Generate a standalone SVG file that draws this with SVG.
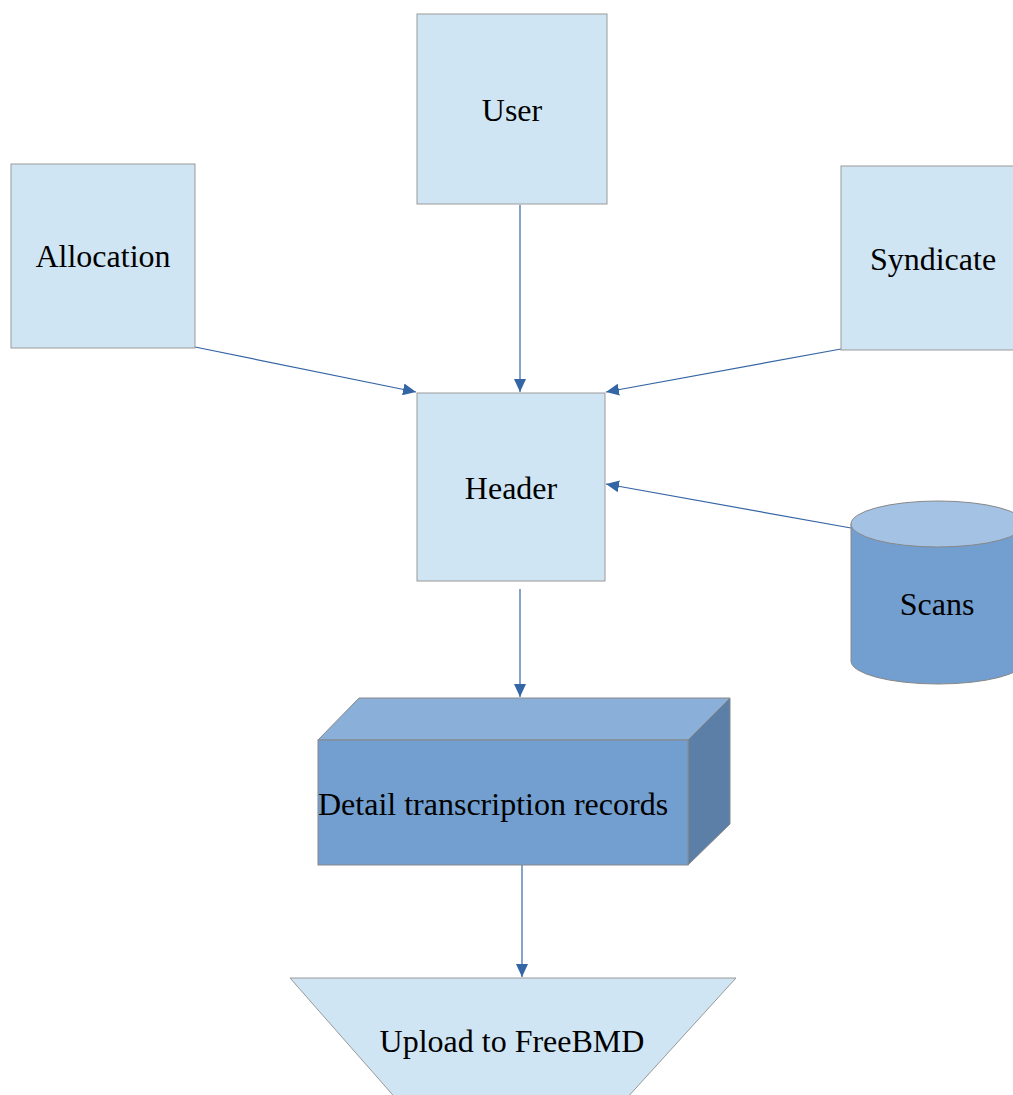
<svg xmlns="http://www.w3.org/2000/svg" width="1013" height="1095" viewBox="0 0 1013 1095">
<defs>
<style>
.n{fill:#cfe5f3;stroke:#999;stroke-width:1}
.t{font-family:"Liberation Serif","Times New Roman",serif;font-size:32px;fill:#000;text-anchor:middle}
.c{stroke:#3465a4;stroke-width:1.2;fill:none;marker-end:url(#ah)}
</style>
<marker id="ah" markerUnits="userSpaceOnUse" markerWidth="14" markerHeight="12" refX="13" refY="6" orient="auto">
<path d="M0,0 L13,6 L0,12 Z" fill="#3465a4"/>
</marker>
</defs>
<rect width="1013" height="1095" fill="#fff"/>
<g id="connectors">
<line class="c" x1="520" y1="205" x2="520" y2="392"/>
<line class="c" x1="195" y1="347" x2="416" y2="392"/>
<line class="c" x1="841" y1="349" x2="606" y2="392"/>
<line class="c" x1="851" y1="528" x2="606" y2="484"/>
<line class="c" x1="520" y1="589" x2="520" y2="697"/>
<line class="c" x1="522" y1="865" x2="522" y2="977"/>
</g>
<g id="user">
<rect class="n" x="417" y="14" width="190" height="190"/>
<text class="t" x="512" y="121">User</text>
</g>
<g id="allocation">
<rect class="n" x="11" y="164" width="184" height="184"/>
<text class="t" x="103" y="267">Allocation</text>
</g>
<g id="syndicate">
<rect class="n" x="841" y="166" width="184" height="184"/>
<text class="t" x="933" y="270">Syndicate</text>
</g>
<g id="header">
<rect class="n" x="417" y="393" width="188" height="188"/>
<text class="t" x="511" y="499">Header</text>
</g>
<g id="scans">
<path d="M851,524 L851,661 A87,23 0 0 0 1025,661 L1025,524 Z" fill="#729fcf" stroke="#888" stroke-width="1"/>
<ellipse cx="938" cy="524" rx="87" ry="23" fill="#a4c2e4" stroke="#888" stroke-width="1"/>
<text class="t" x="937" y="615">Scans</text>
</g>
<g id="detail">
<polygon points="318,740 359,698 730,698 688,740" fill="#8aafd9" stroke="#888" stroke-width="1"/>
<polygon points="688,740 730,698 730,824 688,865" fill="#5c7fa8" stroke="#888" stroke-width="1"/>
<rect x="318" y="740" width="370" height="125" fill="#729fcf" stroke="#888" stroke-width="1"/>
<text class="t" x="318" y="815" style="text-anchor:start">Detail transcription records</text>
</g>
<g id="upload">
<polygon class="n" points="290,978 736,978 616,1110 406,1110"/>
<text class="t" x="512" y="1052">Upload to FreeBMD</text>
</g>
</svg>
